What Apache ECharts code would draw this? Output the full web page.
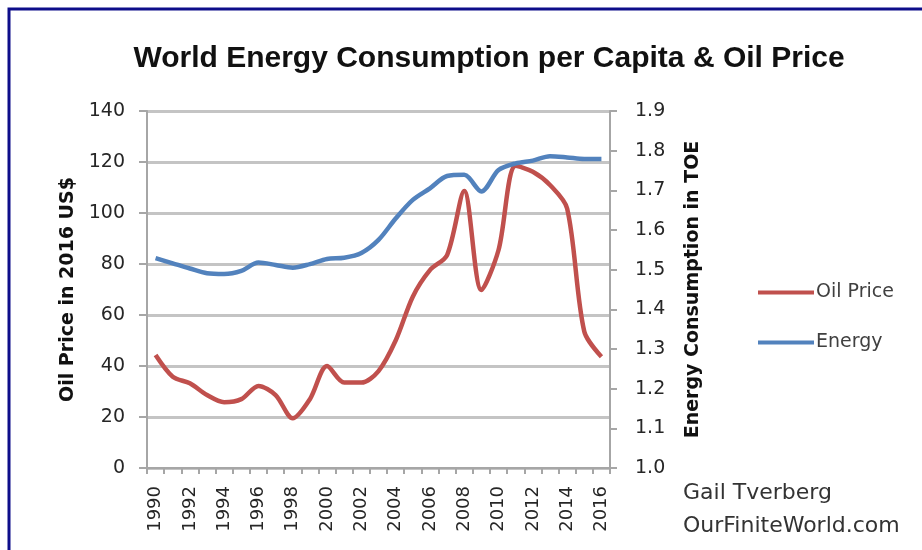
<!DOCTYPE html>
<html>
<head>
<meta charset="utf-8">
<script src="https://cdn.jsdelivr.net/npm/echarts@6/dist/echarts.min.js"></script>
<style>
  html, body { margin: 0; padding: 0; background: #ffffff; }
  #chart { width: 922px; height: 550px; }
</style>
</head>
<body>
<div id="chart"></div>
<script>
// Years on the horizontal axis
const years = ['1990','1991','1992','1993','1994','1995','1996','1997','1998','1999',
  '2000','2001','2002','2003','2004','2005','2006','2007','2008','2009',
  '2010','2011','2012','2013','2014','2015','2016'];

// Oil price in 2016 US$ (left axis)
const oilPrice = [44.3, 35.8, 33.2, 28.6, 25.8, 27.0, 32.2, 28.6, 19.5, 27.0,
  40.0, 33.5, 33.5, 38.0, 50.0, 67.2, 77.6, 83.5, 108.6, 69.8,
  85.5, 118.5, 116.2, 111.0, 101.8, 53.5, 43.6];

// Energy consumption per capita in TOE (right axis)
const energy = [1.529, 1.516, 1.503, 1.491, 1.489, 1.497, 1.518, 1.512, 1.505, 1.514,
  1.527, 1.530, 1.542, 1.575, 1.629, 1.676, 1.705, 1.736, 1.739, 1.697,
  1.751, 1.768, 1.775, 1.786, 1.783, 1.779, 1.779];

// Axis tick ranges
const leftAxis = { min: 0, max: 140, step: 20 };
const rightAxis = { min: 1.0, max: 1.9, step: 0.1 };

const chart = echarts.init(document.getElementById('chart'), null, { renderer: 'canvas' });

const TITLE_FONT = '"Liberation Sans", "DejaVu Sans", sans-serif';
const FONT = '"DejaVu Sans", "Liberation Sans", sans-serif';
const gridGray = '#c4c4c4';
const axisGray = '#a6a6a6';
const textColor = '#262626';
const oilColor = '#c0504d';
const energyColor = '#5282bd';

const legendBase = {
  orient: 'vertical',
  left: 753,
  icon: 'rect',
  itemWidth: 56,
  itemHeight: 4,
  itemGap: 0,
  textStyle: { fontFamily: FONT, fontSize: 19, color: '#404040', padding: [0, 0, 0, -3] }
};

chart.setOption({
  backgroundColor: '#ffffff',
  animation: false,
  title: {
    text: 'World Energy Consumption per Capita & Oil Price',
    left: 484,
    textAlign: 'center',
    top: 39,
    textStyle: { fontFamily: TITLE_FONT, fontWeight: 'bold', fontSize: 30, color: '#111111' }
  },
  legend: [
    Object.assign({}, legendBase, { top: 278, data: ['Oil Price'] }),
    Object.assign({}, legendBase, { top: 328, data: ['Energy'] })
  ],
  grid: { left: 147, right: 312, top: 111, bottom: 82, containLabel: false },
  xAxis: {
    type: 'category',
    data: years,
    boundaryGap: true,
    axisLine: { lineStyle: { color: axisGray, width: 2 } },
    axisTick: { show: true, interval: 0, length: 6, lineStyle: { color: axisGray, width: 2 } },
    axisLabel: {
      interval: 1,
      rotate: 90,
      margin: 18,
      fontFamily: FONT,
      fontSize: 18,
      color: textColor
    }
  },
  yAxis: [
    {
      type: 'value',
      min: leftAxis.min,
      max: leftAxis.max,
      interval: leftAxis.step,
      name: 'Oil Price in 2016 US$',
      nameLocation: 'middle',
      nameRotate: 90,
      nameGap: 65,
      nameTextStyle: { fontFamily: FONT, fontWeight: 'bold', fontSize: 19, color: '#111111' },
      axisLine: { show: true, lineStyle: { color: axisGray, width: 2 } },
      axisTick: { show: true, length: 8, lineStyle: { color: axisGray, width: 2 } },
      axisLabel: { margin: 22, fontFamily: FONT, fontSize: 19, color: textColor },
      splitLine: { show: true, lineStyle: { color: gridGray, width: 3 } }
    },
    {
      type: 'value',
      position: 'right',
      min: rightAxis.min,
      max: rightAxis.max,
      interval: rightAxis.step,
      name: 'Energy Consumption in TOE',
      nameLocation: 'middle',
      nameRotate: 90,
      nameGap: 74,
      nameTextStyle: { fontFamily: FONT, fontWeight: 'bold', fontSize: 19, color: '#111111' },
      axisLine: { show: true, lineStyle: { color: axisGray, width: 2 } },
      axisTick: { show: true, length: 7, lineStyle: { color: axisGray, width: 2 } },
      axisLabel: {
        margin: 25,
        fontFamily: FONT,
        fontSize: 19,
        color: textColor,
        formatter: v => v.toFixed(1)
      },
      splitLine: { show: false }
    }
  ],
  series: [
    {
      name: 'Oil Price',
      type: 'line',
      yAxisIndex: 0,
      data: oilPrice,
      smooth: 0.3,
      symbol: 'none',
      z: 3,
      itemStyle: { color: oilColor },
      lineStyle: { color: oilColor, width: 4.5 }
    },
    {
      name: 'Energy',
      type: 'line',
      yAxisIndex: 1,
      data: energy,
      smooth: 0.3,
      symbol: 'none',
      z: 4,
      itemStyle: { color: energyColor },
      lineStyle: { color: energyColor, width: 4.5 }
    }
  ],
  graphic: [
    {
      type: 'rect',
      shape: { x: 9, y: 9, width: 1000, height: 1000 },
      style: { fill: 'none', stroke: '#0d0d8a', lineWidth: 3 },
      silent: true
    },
    {
      type: 'text',
      left: 683,
      top: 482,
      style: { text: 'Gail Tverberg', fontFamily: FONT, fontSize: 22, fill: '#333333' }
    },
    {
      type: 'text',
      left: 683,
      top: 515,
      style: { text: 'OurFiniteWorld.com', fontFamily: FONT, fontSize: 22, fill: '#333333' }
    }
  ]
});
</script>
</body>
</html>
